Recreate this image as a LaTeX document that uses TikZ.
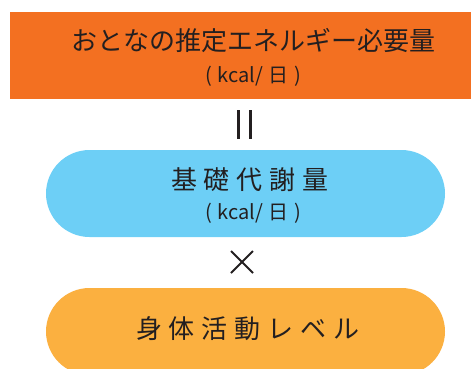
\documentclass[tikz,border=0pt]{standalone}
\usepackage{fontspec}
\setmainfont{Noto Sans CJK JP}
\definecolor{topor}{HTML}{F37021}
\definecolor{bmrblue}{HTML}{6DCFF6}
\definecolor{palor}{HTML}{FBB040}
\definecolor{ink}{HTML}{231F20}
\tikzset{
  shapebox/.style={inner sep=0pt, draw=none},
  pill/.style={shapebox, rounded corners=43.5pt, minimum width=399pt, minimum height=87pt},
  bigtext/.style={inner sep=0pt, text=ink, font=\fontsize{26}{30}\selectfont},
  unittext/.style={inner sep=0pt, text=ink, font=\fontsize{20}{24}\selectfont},
  symline/.style={draw=ink, line width=2pt}
}
\begin{document}
\begin{tikzpicture}[x=1pt,y=-1pt]
\path[use as bounding box, clip] (0,0) rectangle (471,368);
\node[shapebox, fill=topor, minimum width=461pt, minimum height=87pt] (top) at (240.5,55.5) {};
\node[bigtext] (toptitle) at (253.5,41) {おとなの推定エネルギー必要量};
\node[unittext] (topunit) at (253,76) {(\kern6pt kcal/\kern5pt 日\kern6pt )};
% equals sign (vertical)
\coordinate (eqa1) at (238.5,110);
\coordinate (eqa2) at (238.5,139);
\coordinate (eqb1) at (250.5,110);
\coordinate (eqb2) at (250.5,139);
\draw[symline, line width=3.5pt] (eqa1) -- (eqa2);
\draw[symline, line width=3.5pt] (eqb1) -- (eqb2);
\node[pill, fill=bmrblue] (bmr) at (245.5,193.5) {};
\node[bigtext] (bmrtitle) at (250,180) {基\kern7pt 礎\kern7pt 代\kern7pt 謝\kern7pt 量};
\node[unittext] (bmrunit) at (253,213.5) {(\kern6pt kcal/\kern5pt 日\kern6pt )};
% multiplication sign
\coordinate (x1) at (231,251);
\coordinate (x2) at (253,273);
\coordinate (x3) at (253,251);
\coordinate (x4) at (231,273);
\draw[symline] (x1) -- (x2);
\draw[symline] (x3) -- (x4);
\node[pill, fill=palor] (pal) at (245.5,331.5) {};
\node[bigtext] (paltitle) at (248,329) {身\kern7pt 体\kern7pt 活\kern7pt 動\kern7pt レ\kern7pt ベ\kern7pt ル};
\end{tikzpicture}
\end{document}
